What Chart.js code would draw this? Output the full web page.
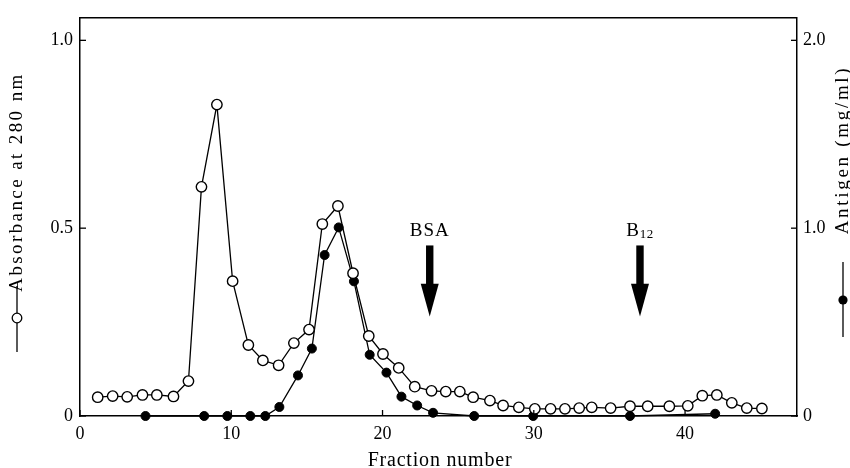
<!DOCTYPE html>
<html>
<head>
<meta charset="utf-8">
<script src="https://cdn.jsdelivr.net/npm/chart.js@4.4.1/dist/chart.umd.min.js"></script>
<style>
  html, body { margin: 0; padding: 0; background: #fff; }
  #wrap { width: 850px; height: 468px; position: relative; }
</style>
</head>
<body>
<div id="wrap"><canvas id="c" width="850" height="468"></canvas></div>
<script>
// ---- Data ----
const absFractions = [1.17, 2.16, 3.12, 4.13, 5.08, 6.18, 7.17, 8.03, 9.05, 10.09, 11.13, 12.09, 13.13, 14.14, 15.14,
  16.02, 17.05, 18.05, 19.09, 20.03, 21.07, 22.13, 23.24, 24.18, 25.11, 25.99, 27.10, 27.97, 29.01, 30.07,
  31.11, 32.06, 33.00, 33.83, 35.08, 36.36, 37.53, 38.96, 40.18, 41.14, 42.10, 43.09, 44.08, 45.08];
const absorbance = [0.050, 0.053, 0.051, 0.056, 0.056, 0.052, 0.093, 0.610, 0.829, 0.359, 0.189, 0.148, 0.135, 0.194, 0.230,
  0.511, 0.559, 0.380, 0.213, 0.165, 0.128, 0.078, 0.067, 0.065, 0.065, 0.050, 0.041, 0.028, 0.023, 0.019,
  0.019, 0.019, 0.021, 0.023, 0.021, 0.026, 0.026, 0.026, 0.027, 0.054, 0.056, 0.035, 0.021, 0.020];

const agFractions = [4.33, 8.21, 9.74, 11.26, 12.25, 13.18, 14.41, 15.33, 16.17, 17.10, 18.11, 19.15, 20.26, 21.25,
  22.29, 23.34, 26.06, 29.96, 36.36, 41.99];
const antigen = [0, 0, 0, 0, 0, 0.048, 0.216, 0.359, 0.857, 1.004, 0.717, 0.326, 0.231, 0.103,
  0.056, 0.017, 0, 0, 0, 0.012];

const xTicks = [0, 10, 20, 30, 40];
const xTickLabels = ['0', '10', '20', '30', '40'];
const yTicks = [0, 0.5, 1.0];
const yTickLabels = ['0', '0.5', '1.0'];
const y2Ticks = [0, 1.0, 2.0];
const y2TickLabels = ['0', '1.0', '2.0'];

const markerNames = ['BSA', 'B'];
const markerSubs = ['', '12'];
const markerFractions = [23.12, 37.02];
const arrowTop = 0.454, arrowHeadStart = 0.352, arrowTip = 0.265, markerLabelY = 0.48;

const xTitle = 'Fraction number';
const yTitle = 'Absorbance at 280 nm';
const y2Title = 'Antigen (mg/ml)';

// ---- Chart ----
const FONT = '"Liberation Serif", "Times New Roman", serif';
const INK = '#000';

function fixedTicks(values) {
  return function (scale) { scale.ticks = values.map(v => ({ value: v })); };
}

const decor = {
  id: 'decor',
  afterDraw(chart) {
    const ctx = chart.ctx;
    const ca = chart.chartArea;
    const xs = chart.scales.x, ys = chart.scales.y, y2s = chart.scales.y2;
    ctx.save();
    ctx.strokeStyle = INK; ctx.fillStyle = INK;
    // top frame
    ctx.lineWidth = 1.5;
    ctx.beginPath(); ctx.moveTo(ca.left, ca.top); ctx.lineTo(ca.right, ca.top); ctx.stroke();
    // inward tick marks
    ctx.lineWidth = 1.3;
    const TL = 6;
    xTicks.forEach(v => { const p = xs.getPixelForValue(v); ctx.beginPath(); ctx.moveTo(p, ca.bottom); ctx.lineTo(p, ca.bottom - TL); ctx.stroke(); });
    yTicks.forEach(v => { const p = ys.getPixelForValue(v); ctx.beginPath(); ctx.moveTo(ca.left, p); ctx.lineTo(ca.left + TL, p); ctx.stroke(); });
    y2Ticks.forEach(v => { const p = y2s.getPixelForValue(v); ctx.beginPath(); ctx.moveTo(ca.right, p); ctx.lineTo(ca.right - TL, p); ctx.stroke(); });

    // arrows and labels
    markerFractions.forEach((f, i) => {
      const x = xs.getPixelForValue(f);
      const yT = ys.getPixelForValue(arrowTop), yH = ys.getPixelForValue(arrowHeadStart), yP = ys.getPixelForValue(arrowTip);
      ctx.fillRect(x - 3.7, yT, 7.4, yH - yT + 1);
      ctx.beginPath(); ctx.moveTo(x - 9, yH); ctx.lineTo(x + 9, yH); ctx.lineTo(x, yP); ctx.closePath(); ctx.fill();
      const yl = ys.getPixelForValue(markerLabelY);
      ctx.textBaseline = 'alphabetic';
      ctx.font = '19px ' + FONT;
      ctx.letterSpacing = '1px';
      const w1 = ctx.measureText(markerNames[i]).width;
      let w2 = 0;
      if (markerSubs[i]) { ctx.font = '13px ' + FONT; ctx.letterSpacing = '0.5px'; w2 = ctx.measureText(markerSubs[i]).width; }
      const x0 = x - (w1 + w2) / 2;
      ctx.textAlign = 'left';
      ctx.font = '19px ' + FONT; ctx.letterSpacing = '1px';
      ctx.fillText(markerNames[i], x0, yl);
      if (markerSubs[i]) { ctx.font = '13px ' + FONT; ctx.letterSpacing = '0.5px'; ctx.fillText(markerSubs[i], x0 + w1, yl + 2); }
    });

    // x title
    ctx.font = '20px ' + FONT; ctx.letterSpacing = '0.8px';
    ctx.textAlign = 'center'; ctx.textBaseline = 'alphabetic';
    ctx.fillText(xTitle, 440, 466);

    // left title (rotated) + legend symbol
    ctx.save();
    ctx.translate(22, 182); ctx.rotate(-Math.PI / 2);
    ctx.font = '19px ' + FONT; ctx.letterSpacing = '2.4px';
    ctx.textAlign = 'center';
    ctx.fillText(yTitle, 0, 0);
    ctx.restore();
    ctx.letterSpacing = '0px';
    ctx.lineWidth = 1.3;
    ctx.beginPath(); ctx.moveTo(17, 286); ctx.lineTo(17, 352); ctx.stroke();
    ctx.beginPath(); ctx.arc(17, 318, 4.8, 0, Math.PI * 2); ctx.fillStyle = '#fff'; ctx.fill(); ctx.stroke();
    ctx.fillStyle = INK;

    // right title (rotated) + legend symbol
    ctx.save();
    ctx.translate(848, 150); ctx.rotate(-Math.PI / 2);
    ctx.font = '19px ' + FONT; ctx.letterSpacing = '2.7px';
    ctx.textAlign = 'center';
    ctx.fillText(y2Title, 0, 0);
    ctx.restore();
    ctx.letterSpacing = '0px';
    ctx.beginPath(); ctx.moveTo(843, 262); ctx.lineTo(843, 337); ctx.stroke();
    ctx.beginPath(); ctx.arc(843, 300, 4.6, 0, Math.PI * 2); ctx.fill();
    ctx.restore();
  }
};

const whiteBg = {
  id: 'whiteBg',
  beforeDraw(chart) { const c = chart.ctx; c.save(); c.fillStyle = '#fff'; c.fillRect(0, 0, chart.width, chart.height); c.restore(); }
};

new Chart(document.getElementById('c'), {
  type: 'scatter',
  data: {
    datasets: [
      {
        label: 'Antigen',
        data: agFractions.map((x, i) => ({ x, y: antigen[i] })),
        yAxisID: 'y2',
        showLine: true,
        borderColor: INK, borderWidth: 1.3,
        pointBackgroundColor: INK, pointBorderColor: INK, pointBorderWidth: 1,
        pointRadius: 4.5, pointHoverRadius: 4.5,
        tension: 0, clip: false, order: 2
      },
      {
        label: 'Absorbance',
        data: absFractions.map((x, i) => ({ x, y: absorbance[i] })),
        yAxisID: 'y',
        showLine: true,
        borderColor: INK, borderWidth: 1.3,
        pointBackgroundColor: '#fff', pointBorderColor: INK, pointBorderWidth: 1.4,
        pointRadius: 5.2, pointHoverRadius: 5.2,
        tension: 0, clip: false, order: 1
      }
    ]
  },
  options: {
    responsive: false,
    animation: false,
    devicePixelRatio: 1,
    layout: { padding: { top: 11, left: 0, right: 0, bottom: 0 } },
    plugins: { legend: { display: false }, tooltip: { enabled: false } },
    scales: {
      x: {
        type: 'linear', min: 0, max: 47.4,
        afterFit(s) { s.height = 52; },
        afterBuildTicks: fixedTicks(xTicks),
        grid: { display: false, drawTicks: false },
        border: { display: true, color: INK, width: 1.5 },
        ticks: {
          color: INK, padding: 7, maxRotation: 0, autoSkip: false,
          font: { family: FONT, size: 18 },
          callback: (v) => { const i = xTicks.indexOf(v); return i >= 0 ? xTickLabels[i] : ''; }
        }
      },
      y: {
        type: 'linear', position: 'left', min: 0, max: 1.06,
        afterFit(s) { s.width = 80; },
        afterBuildTicks: fixedTicks(yTicks),
        grid: { display: false, drawTicks: false },
        border: { display: true, color: INK, width: 1.5 },
        ticks: {
          color: INK, padding: 7, autoSkip: false,
          font: { family: FONT, size: 18 },
          callback: (v) => { const i = yTicks.indexOf(v); return i >= 0 ? yTickLabels[i] : ''; }
        }
      },
      y2: {
        type: 'linear', position: 'right', min: 0, max: 2.12,
        afterFit(s) { s.width = 53; },
        afterBuildTicks: fixedTicks(y2Ticks),
        grid: { display: false, drawTicks: false },
        border: { display: true, color: INK, width: 1.5 },
        ticks: {
          color: INK, padding: 6, autoSkip: false,
          font: { family: FONT, size: 18 },
          callback: (v) => { const i = y2Ticks.indexOf(v); return i >= 0 ? y2TickLabels[i] : ''; }
        }
      }
    }
  },
  plugins: [whiteBg, decor]
});
</script>
</body>
</html>
